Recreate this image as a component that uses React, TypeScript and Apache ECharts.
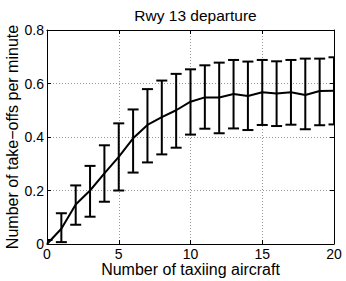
import React, { useEffect, useRef } from "react";
import * as echarts from "echarts";

const xValues = [0, 1, 2, 3, 4, 5, 6, 7, 8, 9, 10, 11, 12, 13, 14, 15, 16, 17, 18, 19, 20];
const meanRate = [0, 0.057, 0.148, 0.2, 0.264, 0.326, 0.395, 0.445, 0.474, 0.5, 0.532, 0.548, 0.548, 0.561, 0.553, 0.567, 0.563, 0.567, 0.557, 0.572, 0.573];
const lowerRate = [-0.015, 0.007, 0.072, 0.102, 0.158, 0.2, 0.267, 0.305, 0.335, 0.36, 0.409, 0.431, 0.414, 0.432, 0.426, 0.445, 0.441, 0.446, 0.429, 0.444, 0.447];
const upperRate = [0.015, 0.115, 0.219, 0.292, 0.369, 0.451, 0.503, 0.579, 0.611, 0.636, 0.653, 0.668, 0.678, 0.688, 0.682, 0.688, 0.683, 0.688, 0.693, 0.693, 0.698];
const xTicks = [0, 5, 10, 15, 20];
const yTicks = [0, 0.2, 0.4, 0.6, 0.8];

const FONT = "'Liberation Sans', Arial, Helvetica, sans-serif";

export default function App() {
  const ref = useRef<HTMLDivElement>(null);
  useEffect(() => {
    if (!ref.current) return;
    const chart = echarts.init(ref.current, undefined, { renderer: "svg" });
    const grid = { left: 47, right: 12, top: 30, bottom: 37, outerBoundsMode: "none", containLabel: false };
    const gridLine = { show: true, lineStyle: { color: "#999", type: [1, 2] as any, width: 1 } };
    chart.setOption({
      animation: false,
      backgroundColor: "#fff",
      title: {
        text: "Rwy 13 departure",
        left: 190.5,
        textAlign: "center",
        top: 2,
        textStyle: { fontFamily: FONT, fontSize: 15.5, fontWeight: "normal", color: "#000" },
      },
      grid,
      xAxis: [
        {
          type: "value",
          min: 0,
          max: 20,
          interval: 5,
          name: "Number of taxiing aircraft",
          nameLocation: "middle",
          nameGap: 17,
          nameMoveOverlap: false,
          nameTextStyle: { fontFamily: FONT, fontSize: 16, color: "#000", lineHeight: 16 },
          axisLine: { show: true, onZero: false, lineStyle: { color: "#000", width: 1 } },
          axisTick: { show: true, inside: true, length: 4, lineStyle: { color: "#000" } },
          axisLabel: { fontFamily: FONT, fontSize: 14, lineHeight: 13, color: "#000", margin: 3, formatter: (v: number) => (xTicks.includes(v) ? String(v) : "") },
          splitLine: gridLine,
        },
        {
          type: "value",
          position: "top",
          min: 0,
          max: 20,
          interval: 5,
          axisLine: { show: true, onZero: false, lineStyle: { color: "#000", width: 1 } },
          axisTick: { show: true, inside: true, length: 4, lineStyle: { color: "#000" } },
          axisLabel: { show: false },
          splitLine: { show: false },
        },
      ],
      yAxis: [
        {
          type: "value",
          min: 0,
          max: 0.8,
          interval: 0.2,
          name: "Number of take\u2212offs per minute",
          nameLocation: "middle",
          nameGap: 27,
          nameMoveOverlap: false,
          nameTextStyle: { fontFamily: FONT, fontSize: 16, color: "#000", lineHeight: 16 },
          axisLine: { show: true, onZero: false, lineStyle: { color: "#000", width: 1 } },
          axisTick: { show: true, inside: true, length: 4, lineStyle: { color: "#000" } },
          axisLabel: {
            fontFamily: FONT,
            fontSize: 14,
            color: "#000",
            margin: 3,
            formatter: (v: number) => {
              const t = yTicks.find((y) => Math.abs(y - v) < 1e-9);
              return t === undefined ? "" : t === 0 ? "0" : t.toFixed(1);
            },
          },
          splitLine: gridLine,
        },
        {
          type: "value",
          position: "right",
          min: 0,
          max: 0.8,
          interval: 0.2,
          axisLine: { show: true, onZero: false, lineStyle: { color: "#000", width: 1 } },
          axisTick: { show: true, inside: true, length: 4, lineStyle: { color: "#000" } },
          axisLabel: { show: false },
          splitLine: { show: false },
        },
      ],
      series: [
        {
          type: "custom",
          clip: true,
          xAxisIndex: 0,
          yAxisIndex: 0,
          data: xValues.map((x, i) => [x, lowerRate[i], upperRate[i]]),
          renderItem: (params: any, api: any) => {
            const x = api.value(0);
            const lo = api.coord([x, api.value(1)]);
            const hi = api.coord([x, api.value(2)]);
            const hw = 5.5;
            const style = { stroke: "#000", lineWidth: 2 };
            return {
              type: "group",
              children: [
                { type: "line", shape: { x1: lo[0], y1: lo[1], x2: hi[0], y2: hi[1] }, style },
                { type: "line", shape: { x1: hi[0] - hw, y1: hi[1], x2: hi[0] + hw, y2: hi[1] }, style },
                { type: "line", shape: { x1: lo[0] - hw, y1: lo[1], x2: lo[0] + hw, y2: lo[1] }, style },
              ],
            };
          },
          z: 3,
        },
        {
          type: "line",
          xAxisIndex: 0,
          yAxisIndex: 0,
          data: xValues.map((x, i) => [x, meanRate[i]]),
          showSymbol: false,
          symbol: "none",
          lineStyle: { color: "#000", width: 2 },
          z: 4,
        },
      ],
    });
    return () => chart.dispose();
  }, []);
  return <div ref={ref} style={{ width: 346, height: 281, position: "absolute", left: 0, top: 0 }} />;
}
